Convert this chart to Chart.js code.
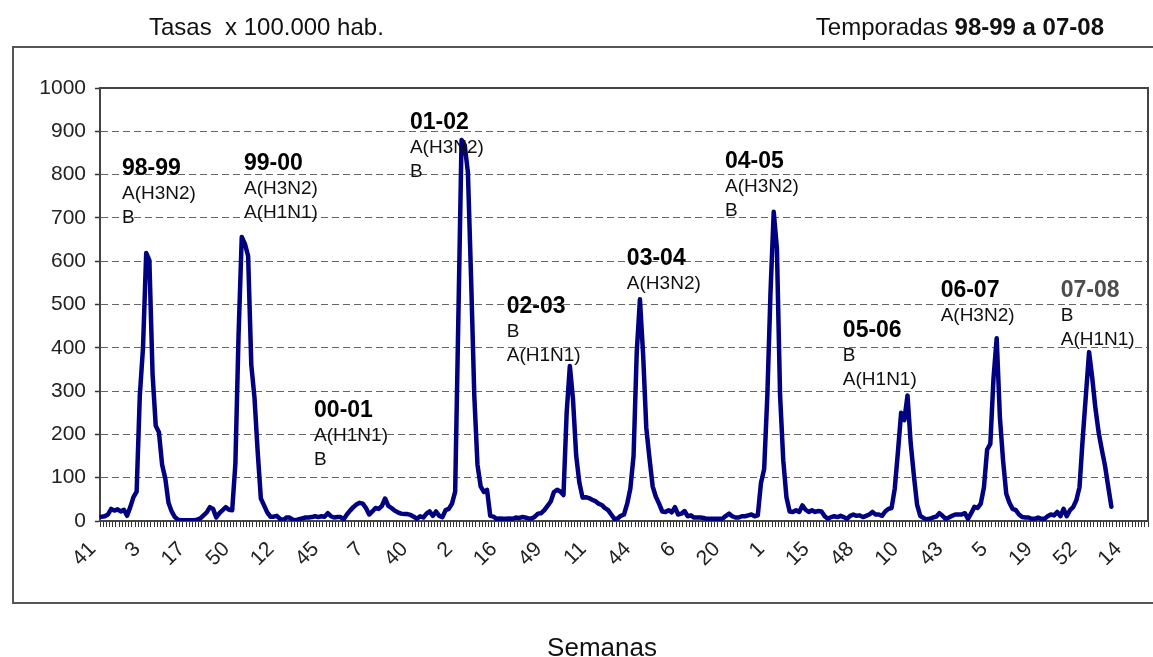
<!DOCTYPE html>
<html lang="es">
<head>
<meta charset="utf-8">
<title>Tasas de incidencia de gripe, temporadas 98-99 a 07-08</title>
<script src="https://cdn.jsdelivr.net/npm/chart.js@4.4.1/dist/chart.umd.min.js"></script>
<style>
  html, body { margin: 0; padding: 0; background: #fff; }
  #grafico { display: block; }
</style>
</head>
<body>
<canvas id="grafico" width="1153" height="657" style="width:1153px;height:657px"></canvas>
<script>
// Semanas de una temporada: de la 40 a la 20 del año siguiente
const SEMANAS_TEMPORADA = [40, 41, 42, 43, 44, 45, 46, 47, 48, 49, 50, 51, 52,
  1, 2, 3, 4, 5, 6, 7, 8, 9, 10, 11, 12, 13, 14, 15, 16, 17, 18, 19, 20];

const TEMPORADAS = ['98-99', '99-00', '00-01', '01-02', '02-03', '03-04', '04-05', '05-06', '06-07', '07-08'];

// Virus predominantes en cada temporada
const VIRUS = [
  ['A(H3N2)', 'B'],
  ['A(H3N2)', 'A(H1N1)'],
  ['A(H1N1)', 'B'],
  ['A(H3N2)', 'B'],
  ['B', 'A(H1N1)'],
  ['A(H3N2)'],
  ['A(H3N2)', 'B'],
  ['B', 'A(H1N1)'],
  ['A(H3N2)'],
  ['B', 'A(H1N1)']
];

// Tasas semanales x 100.000 hab. (la 98-99 empieza en la semana 41)
const tasas9899 = [10, 11, 15, 28, 24, 27, 22, 26, 12, 32, 55, 68, 290, 400, 619, 602,
  340, 220, 205, 130, 98, 42, 22, 9, 3, 2, 2, 2, 2, 2, 3, 6];
const tasas9900 = [13, 20, 32, 28, 8, 18, 25, 32, 26, 25, 132, 430, 656, 640, 612, 360,
  285, 160, 52, 36, 20, 10, 10, 12, 5, 2, 8, 8, 3, 2, 4, 6, 8];
const tasas0001 = [8, 9, 11, 9, 11, 10, 18, 11, 8, 9, 9, 4, 15, 24, 32, 38,
  42, 40, 30, 15, 22, 30, 28, 35, 52, 35, 30, 24, 20, 17, 16, 16, 14];
const tasas0102 = [10, 5, 11, 8, 17, 22, 12, 22, 12, 9, 25, 28, 40, 68, 470, 880,
  868, 805, 560, 290, 130, 80, 67, 72, 12, 10, 5, 6, 5, 5, 6, 5, 8];
const tasas0203 = [7, 9, 8, 6, 6, 10, 17, 18, 25, 35, 45, 67, 72, 68, 60, 250,
  358, 280, 150, 88, 54, 55, 53, 49, 46, 40, 37, 30, 25, 15, 5, 6, 12];
const tasas0304 = [15, 40, 75, 150, 390, 512, 385, 215, 145, 80, 56, 40, 22, 21, 25, 20,
  32, 15, 17, 23, 11, 13, 8, 8, 8, 7, 5, 5, 5, 5, 5, 6, 12];
const tasas0405 = [17, 11, 8, 8, 11, 11, 13, 15, 11, 13, 88, 120, 290, 530, 714, 630,
  290, 140, 55, 22, 21, 25, 21, 36, 26, 21, 25, 21, 23, 22, 11, 5, 9];
const tasas0506 = [11, 9, 12, 9, 5, 12, 15, 12, 13, 9, 12, 15, 21, 15, 15, 12,
  22, 28, 30, 75, 160, 250, 233, 290, 180, 105, 38, 12, 7, 4, 5, 8, 10];
const tasas0607 = [18, 12, 5, 8, 12, 15, 15, 15, 18, 5, 18, 33, 30, 40, 78, 165,
  178, 330, 422, 240, 140, 63, 42, 28, 25, 15, 9, 8, 8, 5, 5, 8, 5];
const tasas0708 = [5, 11, 15, 13, 21, 11, 28, 11, 25, 32, 48, 78, 190, 290, 390, 330,
  260, 205, 165, 128, 80, 33, null, null, null, null, null, null, null, null, null, null, null];

const porTemporada = [tasas9899, tasas9900, tasas0001, tasas0102, tasas0203,
  tasas0304, tasas0405, tasas0506, tasas0607, tasas0708];

// Eje X: todas las semanas seguidas
const semanas = SEMANAS_TEMPORADA.slice(1)
  .concat(...TEMPORADAS.slice(1).map(() => SEMANAS_TEMPORADA));
const tasas = [].concat(...porTemporada);

// Rótulo de cada temporada: [semana (índice), tasa] de la línea en negrita
const POS_ROTULOS = [
  [6.4, 799], [44.7, 810], [66.7, 241], [96.8, 906], [127.2, 480],
  [164.9, 591], [195.7, 815], [232.7, 426], [263.4, 518], [301.1, 518]
];

const FUENTE = '"Liberation Sans", Arial, Helvetica, sans-serif';
const SALTO_ETIQUETAS = 14;

const rotulos = {
  id: 'rotulos',
  beforeDatasetsDraw(chart) {
    // borde superior y derecho del área de trazado
    const { ctx, chartArea: a } = chart;
    ctx.save();
    ctx.strokeStyle = '#444';
    ctx.lineWidth = 2;
    ctx.beginPath();
    ctx.moveTo(a.left, a.top);
    ctx.lineTo(a.right, a.top);
    ctx.lineTo(a.right, a.bottom);
    ctx.stroke();
    ctx.restore();
  },
  afterDatasetsDraw(chart) {
    const { ctx, scales: { x, y } } = chart;
    ctx.save();
    ctx.textAlign = 'left';
    ctx.textBaseline = 'alphabetic';
    TEMPORADAS.forEach((temp, k) => {
      const px = x.getPixelForValue(POS_ROTULOS[k][0]);
      const py = y.getPixelForValue(POS_ROTULOS[k][1]);
      ctx.font = 'bold 23px ' + FUENTE;
      ctx.fillStyle = k === TEMPORADAS.length - 1 ? '#4d4d4d' : '#000';
      ctx.fillText(temp, px, py);
      ctx.font = '19px ' + FUENTE;
      ctx.fillStyle = '#111';
      VIRUS[k].forEach((v, j) => ctx.fillText(v, px, py + 24 * (j + 1)));
    });
    ctx.restore();
  },
  afterDraw(chart) {
    const { ctx } = chart;
    ctx.save();
    // marco exterior
    ctx.strokeStyle = '#555';
    ctx.lineWidth = 2;
    ctx.strokeRect(13, 47, 1160, 556);

    ctx.fillStyle = '#111';
    ctx.textBaseline = 'alphabetic';
    ctx.font = '24px ' + FUENTE;
    ctx.textAlign = 'left';
    ctx.fillText('Tasas  x 100.000 hab.', 149, 35);

    // "Temporadas" normal + periodo en negrita, alineado a la derecha
    const negrita = '98-99 a 07-08';
    ctx.font = 'bold 24px ' + FUENTE;
    const wNeg = ctx.measureText(negrita).width;
    ctx.textAlign = 'right';
    ctx.fillText(negrita, 1104, 35);
    ctx.font = '24px ' + FUENTE;
    ctx.fillText('Temporadas ', 1104 - wNeg, 35);

    ctx.textAlign = 'center';
    ctx.font = '26px ' + FUENTE;
    ctx.fillText('Semanas', 602, 656);
    ctx.restore();
  }
};

new Chart(document.getElementById('grafico'), {
  type: 'line',
  data: {
    labels: semanas,
    datasets: [{
      label: 'Tasa',
      data: tasas,
      borderColor: '#000080',
      backgroundColor: '#000080',
      borderWidth: 4.5,
      borderJoinStyle: 'round',
      borderCapStyle: 'round',
      pointRadius: 0,
      tension: 0,
      spanGaps: false
    }]
  },
  options: {
    responsive: false,
    animation: false,
    devicePixelRatio: 1,
    layout: { padding: { left: 0, right: 5, top: 88, bottom: 0 } },
    plugins: {
      legend: { display: false },
      tooltip: { enabled: false }
    },
    scales: {
      x: {
        type: 'category',
        offset: true,
        grid: {
          offset: true,
          drawOnChartArea: false,
          drawTicks: true,
          tickLength: 6,
          tickColor: '#333',
          tickWidth: 1
        },
        border: { display: true, color: '#444', width: 2 },
        ticks: {
          autoSkip: false,
          minRotation: 45,
          maxRotation: 45,
          padding: 10,
          labelOffset: -9,
          color: '#222',
          font: { family: FUENTE, size: 21 },
          callback: (v, i) => (i % SALTO_ETIQUETAS === 0 ? String(semanas[i]) : '')
        },
        afterFit: (s) => { s.height = 136; s.paddingLeft = 0; s.paddingRight = 0; }
      },
      y: {
        min: 0,
        max: 1000,
        grid: {
          color: '#666',
          lineWidth: 1,
          drawTicks: true,
          tickLength: 5,
          tickColor: '#333',
          tickWidth: 1.5
        },
        border: { display: true, color: '#444', width: 2, dash: [7, 4] },
        ticks: {
          stepSize: 100,
          padding: 9,
          color: '#222',
          font: { family: FUENTE, size: 21 },
          callback: (v) => String(v)
        },
        afterFit: (s) => { s.width = 100; }
      }
    }
  },
  plugins: [rotulos]
});
</script>
</body>
</html>
